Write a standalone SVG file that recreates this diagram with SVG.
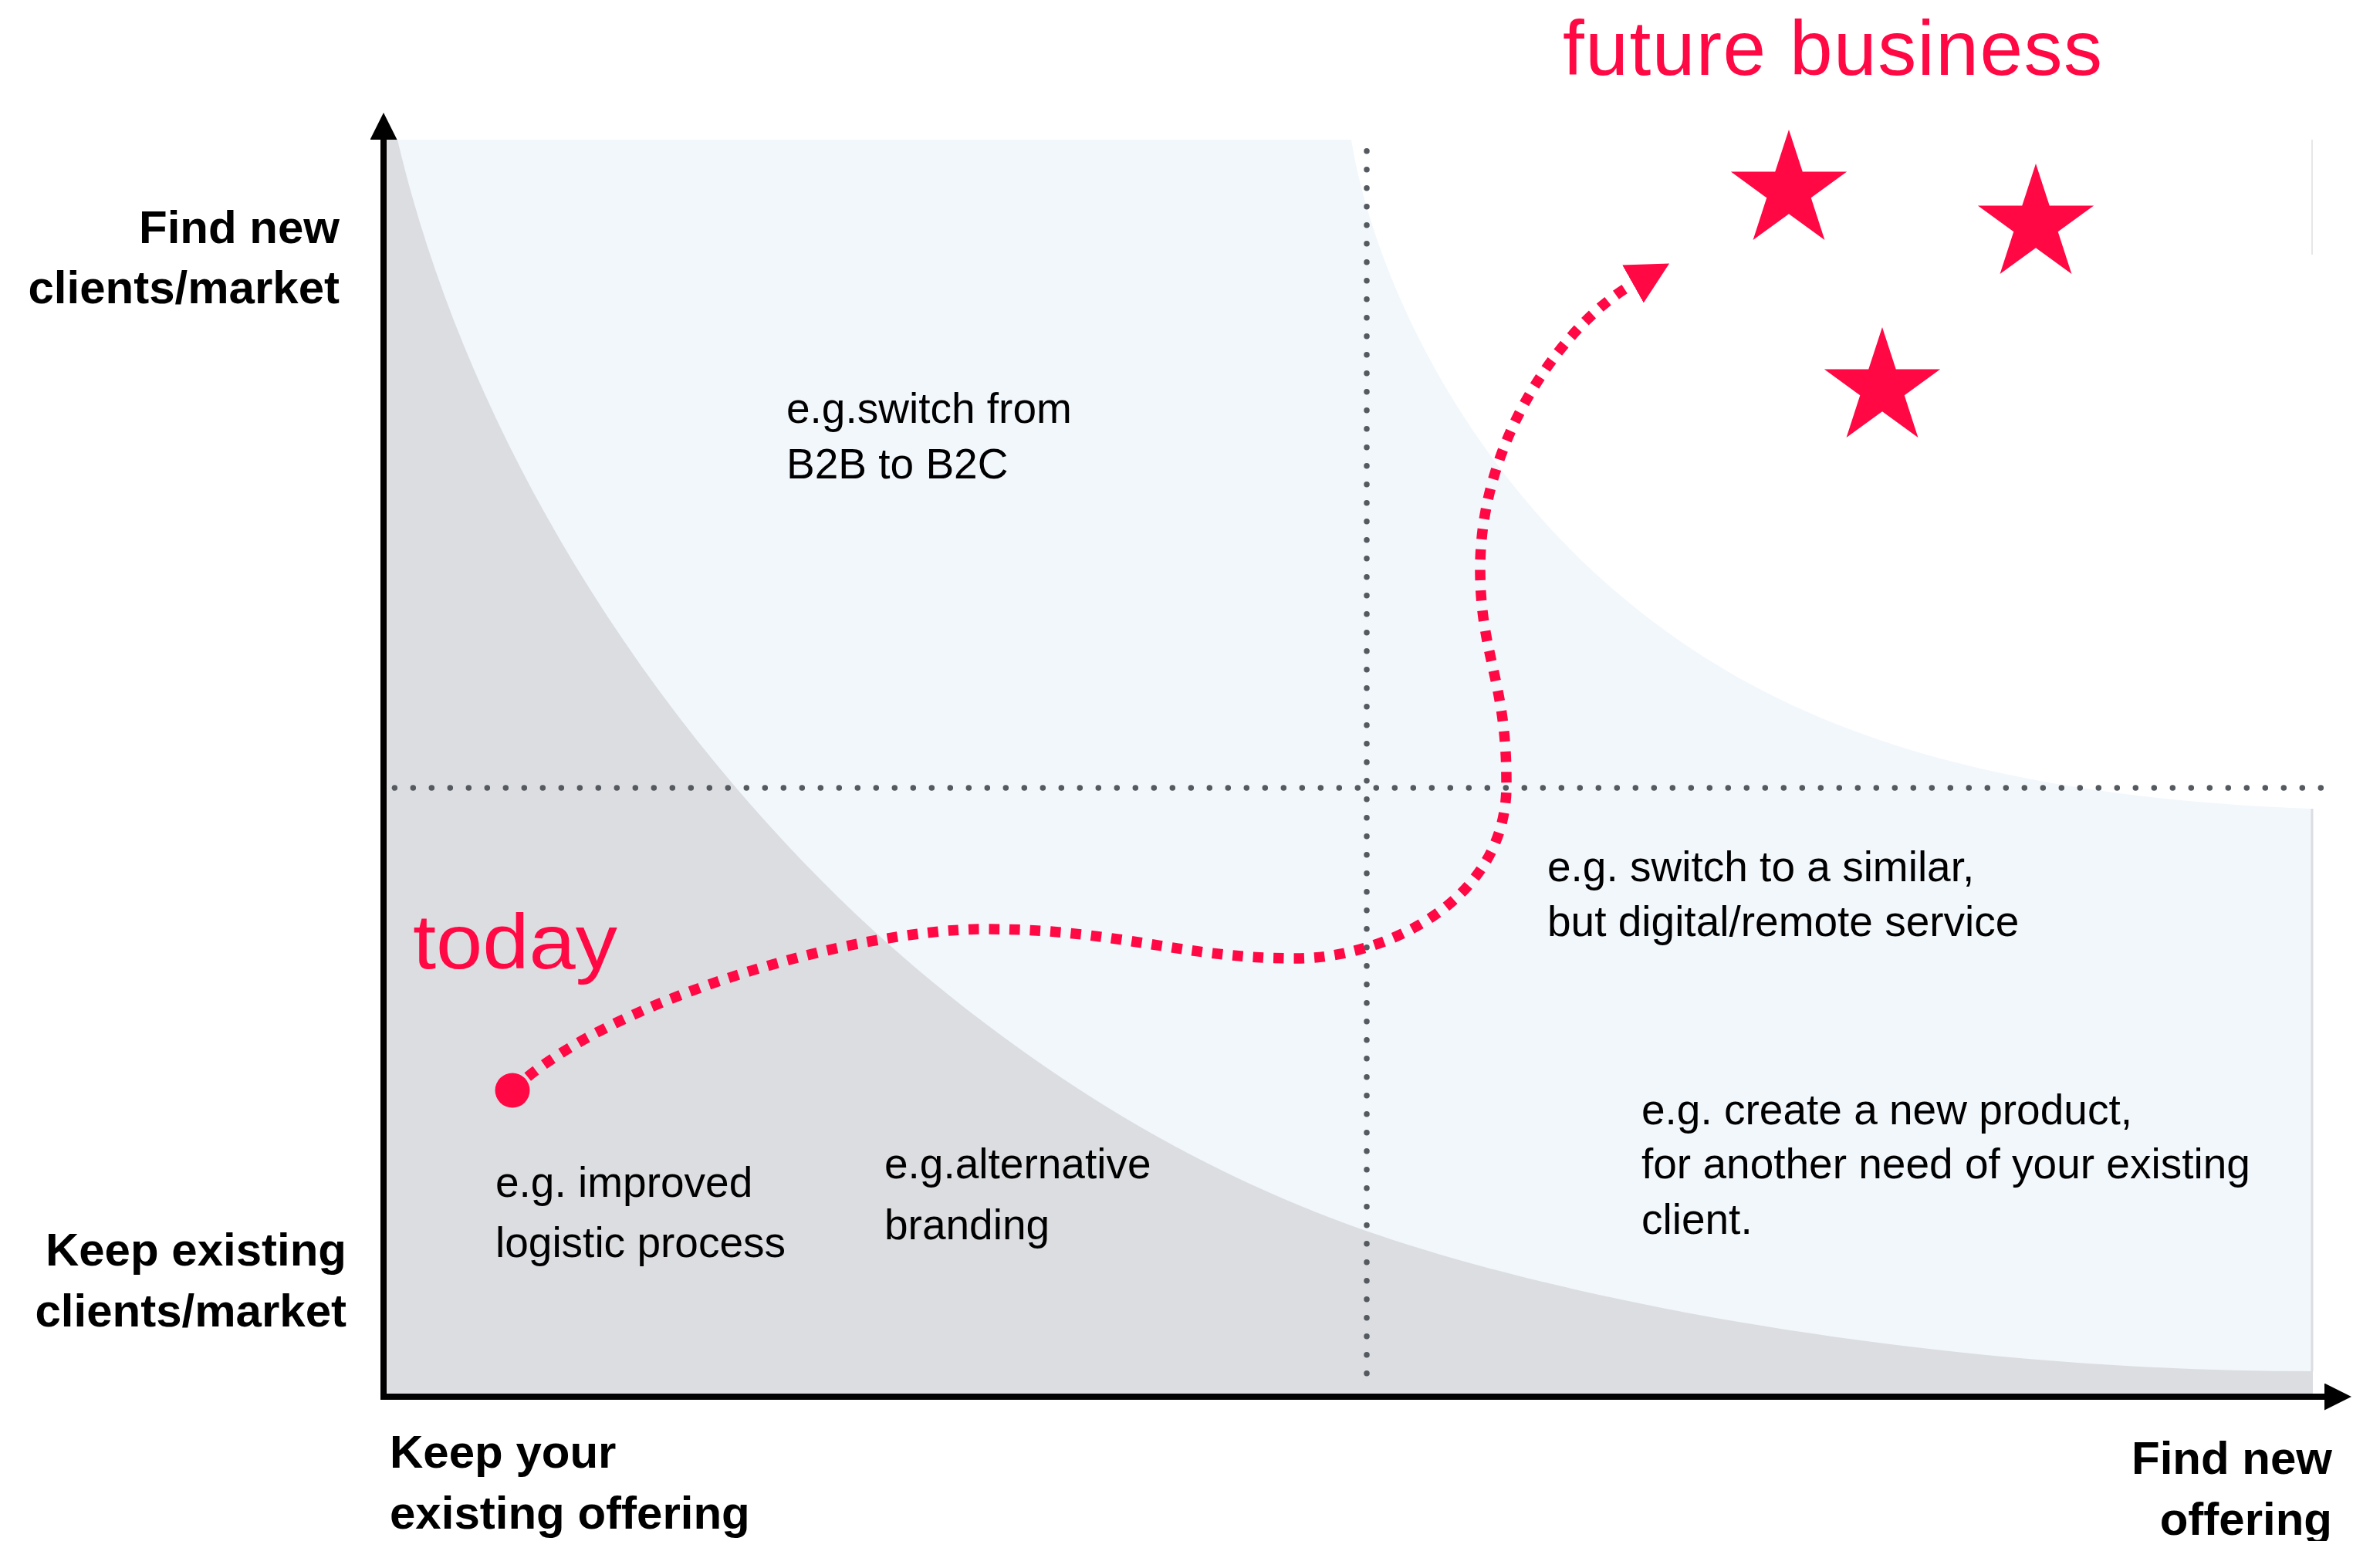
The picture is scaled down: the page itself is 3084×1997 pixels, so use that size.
<svg xmlns="http://www.w3.org/2000/svg" width="3084" height="1997" viewBox="0 0 3084 1997">
<style>
.body{font-family:"Liberation Sans",Arial,sans-serif;font-size:55px;fill:#000}
.axis{font-family:"Liberation Sans",Arial,sans-serif;font-size:60px;font-weight:bold;fill:#000}
.red{font-family:"Liberation Sans",Arial,sans-serif;font-size:100px;fill:#ff0844}
.grid{fill:none;stroke:#555a60;stroke-width:7.5;stroke-linecap:round;stroke-dasharray:0 24}
.axisline{fill:none;stroke:#000;stroke-width:8}
.path{fill:none;stroke:#ff0844;stroke-width:13.5;stroke-dasharray:13.5 13}
</style>
<defs>
<marker id="axhead" markerUnits="userSpaceOnUse" markerWidth="40" markerHeight="40" refX="0" refY="17.5" orient="auto" viewBox="0 0 40 40">
<path d="M0,0 L35,17.5 L0,35 Z" fill="#000"/>
</marker>
<marker id="redhead" markerUnits="userSpaceOnUse" markerWidth="60" markerHeight="60" refX="0" refY="28" orient="auto" viewBox="0 0 60 60">
<path d="M0,0 L54,28 L0,56 Z" fill="#ff0844"/>
</marker>
<path id="star" d="M0,-79 L17.75,-24.43 L75.13,-24.41 L28.72,9.33 L46.43,63.91 L0,30.2 L-46.43,63.91 L-28.72,9.33 L-75.13,-24.41 L-17.75,-24.43 Z" fill="#ff0844"/>
</defs>
<rect width="3084" height="1997" fill="#fff"/>
<g id="zones">
<path id="zone-blue" d="M500,181 L1751,181 C1775,330 1870,560 2067,743 C2250,910 2500,1030 2997,1048 L2997,1806 L500,1806 Z" fill="#f2f7fc"/>
<path id="zone-grey" d="M500,181 L515,181 C621,631 917,1040 1230,1290 C1417,1440 1598,1535 1770,1595 C2027,1685 2500,1777 2997,1777 L2997,1806 L500,1806 Z" fill="#dcdde0"/>
<path d="M2996,1048 V1777" stroke="#dcdde0" stroke-width="3" fill="none"/>
<path d="M2996,181 V330" stroke="#e6e7e9" stroke-width="2" fill="none"/>
</g>
<g id="gridlines">
<path class="grid" d="M1771,195.7 V1780.2"/>
<path class="grid" d="M511.3,1021 H3007.5"/>
</g>
<g id="axes">
<path class="axisline" d="M497,1810 V181" marker-end="url(#axhead)"/>
<path class="axisline" d="M493,1810 H3012" marker-end="url(#axhead)"/>
</g>
<g id="connectors">
<path id="journey" class="path" d="M664,1413 C780,1300 1100,1204 1278,1204 C1450,1204 1530,1242 1680,1242 C1790,1242 1955,1170 1952,1013 C1952,880 1918,850 1918,737 C1918,567 2029,417 2116,368" marker-end="url(#redhead)"/>
</g>
<g id="node-today">
<circle cx="664" cy="1413" r="22.5" fill="#ff0844"/>
<text class="red" x="535" y="1255" textLength="265" lengthAdjust="spacingAndGlyphs">today</text>
</g>
<g id="node-future">
<text class="red" x="2025" y="97" textLength="699" lengthAdjust="spacing">future business</text>
<use href="#star" x="2318" y="247"/>
<use href="#star" x="2638" y="291"/>
<use href="#star" x="2439" y="503"/>
</g>
<g id="label-y-top">
<text class="axis" x="440" y="315" text-anchor="end">Find new</text>
<text class="axis" x="440" y="393" text-anchor="end">clients/market</text>
</g>
<g id="label-y-bottom">
<text class="axis" x="449" y="1640" text-anchor="end">Keep existing</text>
<text class="axis" x="449" y="1719" text-anchor="end">clients/market</text>
</g>
<g id="label-x-left">
<text class="axis" x="505" y="1902">Keep your</text>
<text class="axis" x="505" y="1981">existing offering</text>
</g>
<g id="label-x-right">
<text class="axis" x="3022" y="1910" text-anchor="end">Find new</text>
<text class="axis" x="3022" y="1989" text-anchor="end">offering</text>
</g>
<g id="note-b2c">
<text class="body" x="1019" y="548">e.g.switch from</text>
<text class="body" x="1019" y="620">B2B to B2C</text>
</g>
<g id="note-digital">
<text class="body" x="2005" y="1142">e.g. switch to a similar,</text>
<text class="body" x="2005" y="1213">but digital/remote service</text>
</g>
<g id="note-product">
<text class="body" x="2127" y="1457">e.g. create a new product,</text>
<text class="body" x="2127" y="1527">for another need of your existing</text>
<text class="body" x="2127" y="1599">client.</text>
</g>
<g id="note-logistic">
<text class="body" x="642" y="1551">e.g. improved</text>
<text class="body" x="642" y="1629">logistic process</text>
</g>
<g id="note-branding">
<text class="body" x="1146" y="1527">e.g.alternative</text>
<text class="body" x="1146" y="1606">branding</text>
</g>
</svg>
